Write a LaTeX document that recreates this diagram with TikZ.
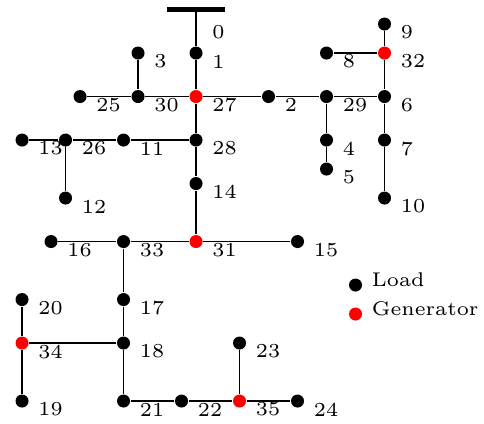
\documentclass[tikz,border=0pt]{standalone}
\begin{document}
\begin{tikzpicture}[x=0.329cm,y=0.329cm,line width=0.6pt,
  load/.style={circle,fill=black,inner sep=0,minimum size=4.2pt},
  gen/.style={circle,fill=red,inner sep=0,minimum size=4.2pt},
  lbl/.style={inner sep=0,label distance=0pt,xshift=2.6pt,yshift=-2.75pt,font=\fontsize{6.4}{7}\selectfont},
  leg/.style={inner sep=0,label distance=0pt,xshift=2.6pt,yshift=1.6pt,font=\fontsize{6.4}{7}\selectfont}]
\useasboundingbox (-0.76,-13.79) rectangle (15.93,0.83);
% slack bus
\coordinate (slackL) at (5,0.5);
\coordinate (slackR) at (7,0.5);
\coordinate (slack) at (6,0.5);
\draw[line width=1.6pt] (slackL) -- (slackR);
\node[circle,inner sep=0,minimum size=4.2pt,label={[lbl]0:0}] (n0) at (6,0) {};
% buses
\node[load,label={[lbl]0:1}] (n1) at (6,-1) {};
\node[load,label={[lbl]0:3}] (n3) at (4,-1) {};
\node[load,label={[lbl]0:25}] (n25) at (2,-2.5) {};
\node[load,label={[lbl]0:30}] (n30) at (4,-2.5) {};
\node[gen,label={[lbl]0:27}] (n27) at (6,-2.5) {};
\node[load,label={[lbl]0:2}] (n2) at (8.5,-2.5) {};
\node[load,label={[lbl]0:29}] (n29) at (10.5,-2.5) {};
\node[load,label={[lbl]0:6}] (n6) at (12.5,-2.5) {};
\node[gen,label={[lbl]0:32}] (n32) at (12.5,-1) {};
\node[load,label={[lbl]0:9}] (n9) at (12.5,0) {};
\node[load,label={[lbl]0:8}] (n8) at (10.5,-1) {};
\node[load,label={[lbl]0:4}] (n4) at (10.5,-4) {};
\node[load,label={[lbl]0:5}] (n5) at (10.5,-5) {};
\node[load,label={[lbl]0:7}] (n7) at (12.5,-4) {};
\node[load,label={[lbl]0:10}] (n10) at (12.5,-6) {};
\node[load,label={[lbl]0:28}] (n28) at (6,-4) {};
\node[load,label={[lbl]0:11}] (n11) at (3.5,-4) {};
\node[load,label={[lbl]0:26}] (n26) at (1.5,-4) {};
\node[load,label={[lbl]0:13}] (n13) at (0,-4) {};
\node[load,label={[lbl]0:12}] (n12) at (1.5,-6) {};
\node[load,label={[lbl]0:14}] (n14) at (6,-5.5) {};
\node[gen,label={[lbl]0:31}] (n31) at (6,-7.5) {};
\node[load,label={[lbl]0:15}] (n15) at (9.5,-7.5) {};
\node[load,label={[lbl]0:33}] (n33) at (3.5,-7.5) {};
\node[load,label={[lbl]0:16}] (n16) at (1,-7.5) {};
\node[load,label={[lbl]0:17}] (n17) at (3.5,-9.5) {};
\node[load,label={[lbl]0:18}] (n18) at (3.5,-11) {};
\node[gen,label={[lbl]0:34}] (n34) at (0,-11) {};
\node[load,label={[lbl]0:20}] (n20) at (0,-9.5) {};
\node[load,label={[lbl]0:19}] (n19) at (0,-13) {};
\node[load,label={[lbl]0:21}] (n21) at (3.5,-13) {};
\node[load,label={[lbl]0:22}] (n22) at (5.5,-13) {};
\node[gen,label={[lbl]0:35}] (n35) at (7.5,-13) {};
\node[load,label={[lbl]0:23}] (n23) at (7.5,-11) {};
\node[load,label={[lbl]0:24}] (n24) at (9.5,-13) {};
% lines
\draw (slack) -- (n1) -- (n27) -- (n28) -- (n14) -- (n31);
\draw (n3) -- (n30);
\draw (n25) -- (n30) -- (n27) -- (n2) -- (n29) -- (n6);
\draw (n9) -- (n32) -- (n6) -- (n7) -- (n10);
\draw (n8) -- (n32);
\draw (n29) -- (n4) -- (n5);
\draw (n28) -- (n11) -- (n26) -- (n13);
\draw (n26) -- (n12);
\draw (n15) -- (n31) -- (n33) -- (n16);
\draw (n33) -- (n17) -- (n18) -- (n34);
\draw (n20) -- (n34) -- (n19);
\draw (n18) -- (n21) -- (n22) -- (n35) -- (n24);
\draw (n35) -- (n23);
% legend
\node[load,label={[leg]0:Load}] (keyload) at (11.5,-9) {};
\node[gen,label={[leg]0:Generator}] (keygen) at (11.5,-10) {};
\end{tikzpicture}
\end{document}
